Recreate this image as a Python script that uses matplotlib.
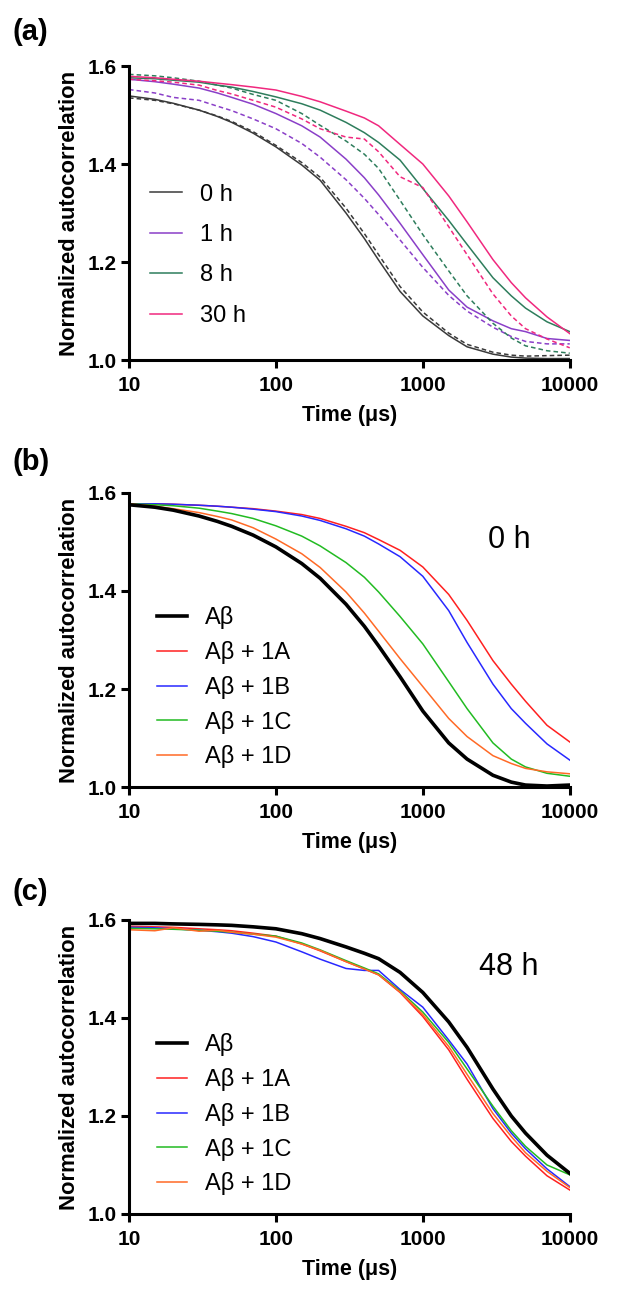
import numpy as np
import matplotlib
matplotlib.use('Agg')
import matplotlib.pyplot as plt

FONT = 'Liberation Sans'

# Time grid (microseconds), shared by all curves
t = [10, 15, 20, 30, 40, 50, 70, 100, 150, 200, 300, 400, 500, 700,
     1000, 1500, 2000, 3000, 4000, 5000, 7000, 10000]

# ---- panel (a): solid / dashed pairs per incubation time ----
a_labels = ['0 h', '1 h', '8 h', '30 h']
a_colors = ['#3a3a3a', '#8a3fc8', '#2e7d5c', '#f0287e']
a_solid = [
    [1.539, 1.532, 1.524, 1.510, 1.497, 1.485, 1.463, 1.435, 1.398, 1.367, 1.300, 1.248, 1.204, 1.140,
     1.090, 1.050, 1.027, 1.012, 1.006, 1.004, 1.003, 1.003],
    [1.573, 1.568, 1.563, 1.555, 1.545, 1.536, 1.522, 1.503, 1.478, 1.455, 1.410, 1.372, 1.337, 1.279,
     1.215, 1.143, 1.108, 1.080, 1.064, 1.058, 1.044, 1.040],
    [1.576, 1.574, 1.571, 1.567, 1.561, 1.557, 1.548, 1.537, 1.523, 1.510, 1.485, 1.464, 1.444, 1.408,
     1.350, 1.285, 1.236, 1.168, 1.131, 1.106, 1.078, 1.058],
    [1.579, 1.576, 1.573, 1.569, 1.565, 1.562, 1.557, 1.551, 1.538, 1.527, 1.508, 1.494, 1.478, 1.440,
     1.400, 1.335, 1.282, 1.205, 1.158, 1.127, 1.088, 1.054],
]
a_dashed = [
    [1.535, 1.530, 1.523, 1.510, 1.498, 1.487, 1.466, 1.438, 1.403, 1.373, 1.310, 1.258, 1.215, 1.150,
     1.098, 1.055, 1.032, 1.016, 1.010, 1.008, 1.009, 1.010],
    [1.552, 1.545, 1.536, 1.530, 1.518, 1.509, 1.492, 1.472, 1.442, 1.414, 1.368, 1.330, 1.297, 1.245,
     1.189, 1.132, 1.100, 1.067, 1.048, 1.038, 1.033, 1.033],
    [1.583, 1.580, 1.576, 1.569, 1.561, 1.555, 1.542, 1.530, 1.503, 1.479, 1.447, 1.420, 1.391, 1.326,
     1.256, 1.182, 1.131, 1.075, 1.045, 1.029, 1.019, 1.014],
    [1.573, 1.570, 1.567, 1.561, 1.550, 1.543, 1.530, 1.516, 1.492, 1.472, 1.455, 1.451, 1.425, 1.374,
     1.352, 1.272, 1.215, 1.135, 1.090, 1.064, 1.043, 1.025],
]

# ---- panels (b) 0 h and (c) 48 h ----
bc_labels = ['Aβ', 'Aβ + 1A', 'Aβ + 1B', 'Aβ + 1C', 'Aβ + 1D']
bc_colors = ['#000000', '#ff2020', '#2828ff', '#22bb22', '#ff6a26']
b_values = [
    [1.576, 1.571, 1.565, 1.553, 1.542, 1.532, 1.514, 1.490, 1.456, 1.426, 1.373, 1.328, 1.288, 1.225,
     1.155, 1.090, 1.057, 1.024, 1.010, 1.004, 1.002, 1.004],
    [1.578, 1.578, 1.577, 1.575, 1.573, 1.571, 1.568, 1.563, 1.556, 1.548, 1.532, 1.519, 1.505, 1.483,
     1.449, 1.393, 1.340, 1.258, 1.210, 1.175, 1.126, 1.092],
    [1.578, 1.578, 1.577, 1.575, 1.573, 1.571, 1.567, 1.562, 1.553, 1.544, 1.527, 1.512, 1.496, 1.470,
     1.430, 1.360, 1.295, 1.210, 1.160, 1.130, 1.088, 1.055],
    [1.578, 1.576, 1.574, 1.569, 1.563, 1.558, 1.548, 1.533, 1.512, 1.492, 1.458, 1.428, 1.398, 1.348,
     1.292, 1.215, 1.160, 1.090, 1.057, 1.041, 1.028, 1.022],
    [1.578, 1.573, 1.568, 1.560, 1.552, 1.545, 1.529, 1.506, 1.476, 1.448, 1.398, 1.355, 1.318, 1.262,
     1.205, 1.140, 1.103, 1.064, 1.048, 1.038, 1.031, 1.027],
]
c_values = [
    [1.593, 1.593, 1.592, 1.591, 1.590, 1.589, 1.586, 1.582, 1.572, 1.562, 1.545, 1.532, 1.521, 1.493,
     1.452, 1.392, 1.340, 1.255, 1.200, 1.165, 1.120, 1.083],
    [1.587, 1.586, 1.585, 1.582, 1.580, 1.578, 1.573, 1.567, 1.551, 1.537, 1.515, 1.500, 1.488, 1.452,
     1.403, 1.335, 1.275, 1.195, 1.148, 1.118, 1.078, 1.049],
    [1.585, 1.584, 1.582, 1.579, 1.576, 1.573, 1.566, 1.555, 1.535, 1.520, 1.501, 1.497, 1.497, 1.458,
     1.422, 1.355, 1.306, 1.215, 1.165, 1.133, 1.092, 1.056],
    [1.583, 1.582, 1.581, 1.579, 1.577, 1.575, 1.571, 1.567, 1.553, 1.539, 1.517, 1.502, 1.490, 1.455,
     1.412, 1.350, 1.296, 1.220, 1.170, 1.138, 1.100, 1.080],
    [1.580, 1.578, 1.584, 1.577, 1.579, 1.575, 1.571, 1.565, 1.551, 1.538, 1.515, 1.500, 1.488, 1.453,
     1.407, 1.342, 1.285, 1.205, 1.158, 1.125, 1.087, 1.054],
]

xticks = [10, 100, 1000, 10000]
yticks = [1.0, 1.2, 1.4, 1.6]


def style_axes(ax):
    ax.set_xscale('log')
    ax.set_xlim(10, 10000)
    ax.set_ylim(1.0, 1.6)
    ax.set_xticks(xticks)
    ax.set_xticklabels([str(v) for v in xticks], family=FONT, fontweight='bold', fontsize=15)
    ax.xaxis.set_minor_locator(matplotlib.ticker.NullLocator())
    ax.set_yticks(yticks)
    ax.set_yticklabels(['%.1f' % v for v in yticks], family=FONT, fontweight='bold', fontsize=15)
    for s in ['top', 'right']:
        ax.spines[s].set_visible(False)
    for s in ['left', 'bottom']:
        ax.spines[s].set_linewidth(2.2)
    ax.tick_params(width=2.2, length=5.5, direction='out')
    ax.tick_params(axis='x', pad=6)
    ax.tick_params(axis='y', pad=3)
    ax.set_xlabel('Time (μs)', family=FONT, fontweight='bold', fontsize=15.5, labelpad=7)
    ax.set_ylabel('Normalized autocorrelation', family=FONT, fontweight='bold', fontsize=15.8, labelpad=6)


fig = plt.figure(figsize=(6.27, 12.97), dpi=100)
left, width, height = 0.2057, 0.703, 0.2267

# (a)
ax1 = fig.add_axes([left, 0.7224, width, height])
for lab, col, ys, yd in zip(a_labels, a_colors, a_solid, a_dashed):
    ax1.plot(t, ys, color=col, lw=1.1, label=lab)
    ax1.plot(t, yd, color=col, lw=1.1, ls=(0, (3, 2)))
style_axes(ax1)
ax1.legend(loc='upper left', bbox_to_anchor=(0.048, 0.60), frameon=False, borderpad=0, borderaxespad=0,
           handlelength=1.36, handletextpad=0.76, labelspacing=0.78, prop={'family': FONT, 'size': 17})

# (b) and (c)
for bottom, vals, tag in [(0.3932, b_values, '0 h'), (0.064, c_values, '48 h')]:
    ax = fig.add_axes([left, bottom, width, height])
    for lab, col, v in zip(bc_labels, bc_colors, vals):
        ax.plot(t, v, color=col, lw=2.6 if col == '#000000' else 1.1, label=lab, zorder=3 if col == '#000000' else 2)
    style_axes(ax)
    ax.legend(loc='upper left', bbox_to_anchor=(0.063, 0.615), frameon=False, borderpad=0, borderaxespad=0,
              handlelength=1.3, handletextpad=0.76, labelspacing=0.5, prop={'family': FONT, 'size': 17})
    ax.text(0.862, 0.84, tag, transform=ax.transAxes, ha='center', va='center', family=FONT, fontsize=22)

for y, lab in [(0.975, '(a)'), (0.644, '(b)'), (0.312, '(c)')]:
    fig.text(0.02, y, lab, ha='left', va='center', family=FONT, fontweight='bold', fontsize=21)

plt.savefig('out.png', dpi=100)
plt.close()
